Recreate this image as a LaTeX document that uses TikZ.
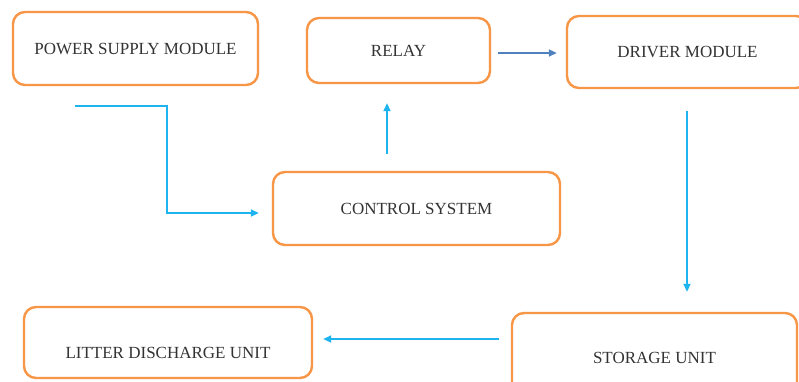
\documentclass[tikz,border=0pt]{standalone}
\usepackage{fontspec}
\setmainfont{Liberation Serif}
\usetikzlibrary{arrows.meta}
\definecolor{boxorange}{HTML}{F79646}
\definecolor{flowblue}{HTML}{1EB4F0}
\definecolor{linkblue}{HTML}{4F81BD}
\definecolor{labelgray}{HTML}{333333}
\tikzset{
  block/.style={draw=boxorange, line width=2.4pt, rounded corners=12pt,
    fill=white, text=labelgray, inner sep=0pt,
    font=\fontsize{17}{19}\selectfont},
  flow/.style={draw=flowblue, line width=1.8pt,
    -{Triangle[length=8pt,width=7pt]}},
  link/.style={draw=linkblue, line width=1.6pt,
    -{Triangle[length=8pt,width=7pt]}}
}
\begin{document}
\begin{tikzpicture}[x=1pt,y=-1pt]
  \useasboundingbox (0,0) rectangle (799,381);
  \clip (0,0) rectangle (799,381);
  \fill[white] (0,0) rectangle (799,381);

  % blocks of the system
  \node[block, minimum width=245pt, minimum height=73pt] (power) at (135.5,48.5) {POWER SUPPLY MODULE};
  \node[block, minimum width=183pt, minimum height=65pt] (relay) at (398.5,50.5) {RELAY};
  \node[block, minimum width=241pt, minimum height=72pt] (driver) at (687.5,52) {DRIVER MODULE};
  \node[block, minimum width=287pt, minimum height=73pt] (ctrl) at (416.5,208.5) {CONTROL SYSTEM};
  \node[block, minimum width=285pt, minimum height=90pt] (store) at (654.5,358) {STORAGE UNIT};
  \node[block, minimum width=288pt, minimum height=71pt] (litter) at (168,342.5) {\raisebox{-16pt}[0pt][0pt]{LITTER DISCHARGE UNIT}};

  % start of the supply line
  \coordinate (pstart) at (75,106);

  % connectors
  \draw[flow, shorten >=13pt] (pstart) -- (167,106) |- ([yshift=-4.5pt]ctrl.west);
  \draw[flow, shorten <=17pt, shorten >=19pt] ([xshift=-29.5pt]ctrl.north) -- ([xshift=-29.5pt]ctrl.north |- relay.south);
  \draw[link, shorten <=7pt, shorten >=9pt] ([yshift=-2.5pt]relay.east) -- ([yshift=-2.5pt]relay.east -| driver.west);
  \draw[flow, shorten <=22pt, shorten >=20pt] ([xshift=-0.5pt]driver.south) -- ([xshift=-0.5pt]driver.south |- store.north);
  \draw[flow, shorten <=12pt, shorten >=10pt] ([yshift=19pt]store.west) -- ([yshift=19pt]store.west -| litter.east);
\end{tikzpicture}
\end{document}
